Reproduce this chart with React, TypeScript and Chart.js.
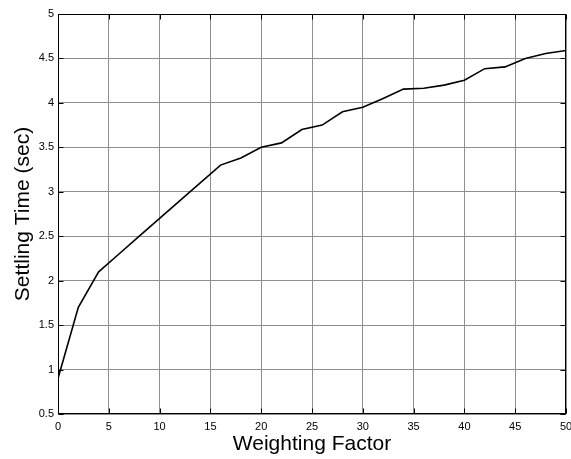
import React, { useEffect, useRef } from 'react';
import { Chart, registerables } from 'chart.js';

Chart.register(...registerables);

const weightingFactor = [0, 2, 4, 6, 8, 10, 12, 14, 16, 18, 20, 22, 24, 26, 28, 30, 32, 34, 36, 38, 40, 42, 44, 46, 48, 50];
const settlingTime = [0.9, 1.7, 2.1, 2.3, 2.5, 2.7, 2.9, 3.1, 3.3, 3.38, 3.5, 3.55, 3.7, 3.75, 3.9, 3.95, 4.05, 4.155, 4.165, 4.2, 4.255, 4.385, 4.405, 4.5, 4.555, 4.59];

const xMin = 0;
const xMax = 50;
const xStep = 5;
const yMin = 0.5;
const yMax = 5;
const yStep = 0.5;

const xTitle = 'Weighting Factor';
const yTitle = 'Settling Time (sec)';

const FONT = "'Liberation Sans', Arial, Helvetica, sans-serif";

const boxPlugin = {
  id: 'matlabBox',
  afterDraw(chart: any) {
    const { ctx, chartArea } = chart;
    const { left, right, top, bottom } = chartArea;
    const xs = chart.scales.x;
    const ys = chart.scales.y;
    const L = Math.round(left) + 0.5;
    const R = Math.round(right) - 0.5;
    const T = Math.round(top) + 0.5;
    const B = Math.round(bottom) - 0.5;
    ctx.save();
    ctx.strokeStyle = '#000';
    ctx.lineWidth = 1;
    ctx.beginPath();
    xs.ticks.forEach((t: any) => {
      const px = Math.round(xs.getPixelForValue(t.value)) + 0.5;
      ctx.moveTo(px, B);
      ctx.lineTo(px, B - 5);
      ctx.moveTo(px, T);
      ctx.lineTo(px, T + 5);
    });
    ys.ticks.forEach((t: any) => {
      const py = Math.round(ys.getPixelForValue(t.value)) + 0.5;
      ctx.moveTo(L, py);
      ctx.lineTo(L + 5, py);
      ctx.moveTo(R, py);
      ctx.lineTo(R - 5, py);
    });
    ctx.stroke();
    ctx.strokeRect(L, T, R - L, B - T);
    ctx.restore();
  },
};

export default function App() {
  const canvasRef = useRef<HTMLCanvasElement | null>(null);

  useEffect(() => {
    if (!canvasRef.current) return;
    const points = weightingFactor.map((x, i) => ({ x, y: settlingTime[i] }));
    const chart = new Chart(canvasRef.current, {
      type: 'line',
      data: {
        datasets: [
          {
            data: points,
            borderColor: '#000',
            borderWidth: 1.6,
            pointRadius: 0,
            tension: 0,
            fill: false,
          },
        ],
      },
      options: {
        responsive: false,
        animation: false,
        events: [],
        layout: { padding: { top: 14, right: 5, left: 0, bottom: 0 } },
        plugins: {
          legend: { display: false },
          tooltip: { enabled: false },
        },
        scales: {
          x: {
            type: 'linear',
            min: xMin,
            max: xMax,
            afterFit: (s: any) => {
              s.height = 45;
              s.paddingLeft = 0;
              s.paddingRight = 0;
            },
            ticks: {
              stepSize: xStep,
              padding: 6,
              color: '#000',
              maxRotation: 0,
              font: { family: FONT, size: 11 },
              callback: (v: any) => String(v),
            },
            grid: { color: '#8e8e8e', lineWidth: 1, drawTicks: false },
            border: { display: false },
            title: {
              display: true,
              text: xTitle,
              color: '#000',
              font: { family: FONT, size: 21 },
              padding: { top: 0, bottom: 2 },
            },
          },
          y: {
            type: 'linear',
            min: yMin,
            max: yMax,
            afterFit: (s: any) => {
              s.width = 58;
              s.paddingTop = 0;
              s.paddingBottom = 0;
            },
            ticks: {
              stepSize: yStep,
              padding: 4,
              color: '#000',
              font: { family: FONT, size: 11 },
              callback: (v: any) => String(v),
            },
            grid: { color: '#8e8e8e', lineWidth: 1, drawTicks: false },
            border: { display: false },
            title: {
              display: true,
              text: yTitle,
              color: '#000',
              font: { family: FONT, size: 21 },
              padding: { top: 11, bottom: 0 },
            },
          },
        },
      },
      plugins: [boxPlugin],
    });
    return () => chart.destroy();
  }, []);

  return (
    <div style={{ position: 'absolute', left: 0, top: 0, width: 571, height: 459, background: '#fff' }}>
      <canvas ref={canvasRef} width={571} height={459} style={{ display: 'block' }} />
    </div>
  );
}
